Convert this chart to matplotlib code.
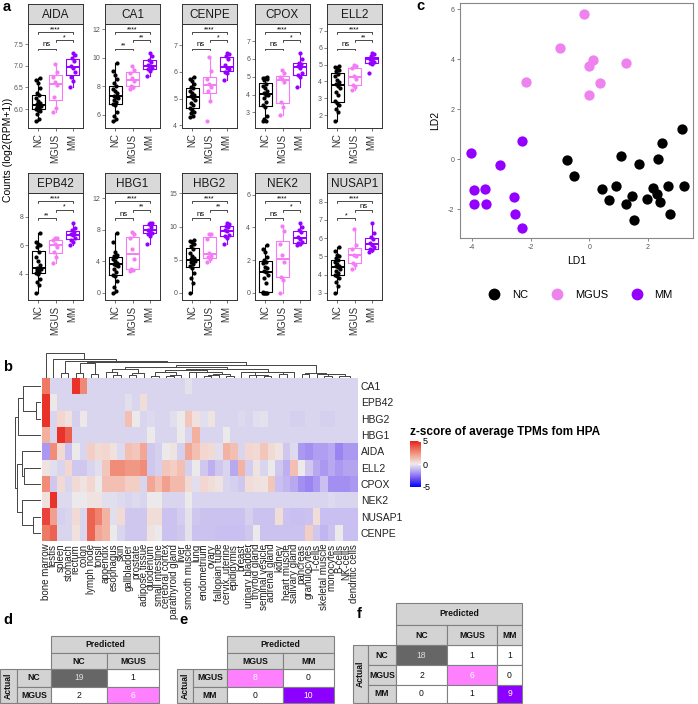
import numpy as np
import matplotlib
matplotlib.use('Agg')
import matplotlib.pyplot as plt
from matplotlib.colors import LinearSegmentedColormap
from matplotlib.patches import Rectangle
from matplotlib.lines import Line2D
from matplotlib.ticker import MultipleLocator

# ---------------- data ----------------
groups = ['NC', 'MGUS', 'MM']
group_colors = ['black', '#F47CF4', '#9400FF']

genes_a = ['AIDA', 'CA1', 'CENPE', 'CPOX', 'ELL2', 'EPB42', 'HBG1', 'HBG2', 'NEK2', 'NUSAP1']

nc_counts = {
    'AIDA': [5.72, 5.78, 5.88, 5.95, 5.97, 6.0, 6.02, 6.05, 6.08, 6.09, 6.11, 6.13, 6.18, 6.25, 6.32, 6.38, 6.48, 6.6, 6.68, 6.72],
    'CA1': [5.55, 5.7, 5.9, 6.2, 6.65, 6.75, 6.9, 7.05, 7.2, 7.25, 7.35, 7.5, 7.65, 7.8, 8.0, 8.2, 8.5, 8.8, 9.1, 9.6],
    'CENPE': [4.3, 4.35, 4.45, 4.5, 4.58, 4.65, 4.75, 4.85, 4.95, 5.02, 5.08, 5.15, 5.2, 5.3, 5.38, 5.45, 5.55, 5.65, 5.72, 5.8],
    'CPOX': [2.5, 2.52, 2.6, 2.8, 3.3, 3.4, 3.6, 3.8, 3.95, 4.0, 4.1, 4.2, 4.35, 4.5, 4.6, 4.8, 4.88, 4.92, 4.95, 4.97],
    'ELL2': [1.65, 2.2, 2.35, 2.6, 2.7, 2.85, 3.2, 3.4, 3.6, 3.75, 3.85, 3.95, 4.1, 4.3, 4.45, 4.6, 4.7, 4.8, 4.85, 4.9],
    'EPB42': [2.65, 3.2, 3.4, 3.6, 3.95, 4.05, 4.15, 4.25, 4.35, 4.38, 4.42, 4.6, 4.9, 5.2, 5.5, 5.9, 6.0, 6.1, 6.2, 6.9],
    'HBG1': [0.0, 0.3, 0.8, 1.5, 2.1, 2.3, 2.6, 3.0, 3.4, 3.55, 3.65, 3.8, 4.1, 4.3, 4.5, 4.7, 4.8, 5.2, 6.5, 7.6],
    'HBG2': [0.0, 1.5, 2.3, 3.0, 3.8, 4.0, 4.3, 4.6, 4.8, 4.95, 5.05, 5.3, 5.6, 6.0, 6.6, 7.0, 7.3, 7.6, 7.8, 8.0],
    'NEK2': [0.0, 0.0, 0.0, 0.0, 0.0, 0.05, 0.6, 0.9, 1.1, 1.25, 1.35, 1.5, 1.6, 1.8, 1.9, 2.0, 2.2, 2.5, 2.7, 2.9],
    'NUSAP1': [3.0, 3.4, 3.6, 3.8, 3.95, 4.0, 4.1, 4.2, 4.3, 4.4, 4.45, 4.5, 4.6, 4.7, 4.8, 4.9, 5.0, 5.1, 5.3, 5.5],
}
mgus_counts = {
    'AIDA': [5.93, 6.02, 6.28, 6.55, 6.62, 6.75, 6.85, 7.03],
    'CA1': [7.8, 7.95, 8.05, 8.35, 8.55, 8.95, 9.15, 9.45],
    'CENPE': [4.15, 4.9, 5.3, 5.45, 5.55, 5.75, 6.05, 6.55],
    'CPOX': [2.87, 3.3, 3.6, 4.7, 4.9, 5.0, 5.2, 5.37],
    'ELL2': [3.5, 3.7, 3.8, 4.15, 4.35, 4.8, 4.9, 5.0],
    'EPB42': [4.75, 5.2, 5.5, 5.9, 6.1, 6.35, 6.5, 6.5],
    'HBG1': [2.8, 2.9, 3.0, 4.3, 5.6, 7.0, 7.5, 7.7],
    'HBG2': [4.7, 5.1, 5.35, 5.6, 6.0, 8.2, 8.9, 8.9],
    'NEK2': [0.0, 0.8, 1.0, 1.9, 2.3, 3.0, 3.8, 4.1],
    'NUSAP1': [4.3, 4.55, 4.65, 5.0, 5.1, 5.4, 5.6, 6.5],
}
mm_counts = {
    'AIDA': [6.52, 6.65, 6.75, 6.85, 6.95, 7.0, 7.1, 7.18, 7.25, 7.3],
    'CA1': [8.75, 9.1, 9.2, 9.3, 9.4, 9.5, 9.7, 9.85, 10.1, 10.35],
    'CENPE': [5.7, 5.95, 6.0, 6.1, 6.15, 6.25, 6.5, 6.6, 6.68, 6.72],
    'CPOX': [4.42, 5.0, 5.1, 5.2, 5.5, 5.62, 5.7, 5.8, 6.0, 6.35],
    'ELL2': [4.52, 5.05, 5.1, 5.15, 5.25, 5.35, 5.4, 5.5, 5.6, 5.7],
    'EPB42': [6.0, 6.2, 6.4, 6.5, 6.7, 6.8, 6.95, 7.05, 7.2, 7.6],
    'HBG1': [6.2, 7.2, 7.5, 7.6, 7.8, 8.0, 8.4, 8.7, 8.8, 8.9],
    'HBG2': [7.3, 8.3, 8.6, 8.8, 9.3, 9.5, 9.9, 10.1, 10.4, 10.6],
    'NEK2': [2.9, 3.0, 3.05, 3.1, 3.3, 3.4, 3.7, 3.85, 4.0, 4.3],
    'NUSAP1': [5.23, 5.35, 5.4, 5.5, 5.65, 5.75, 5.95, 6.05, 6.3, 6.85],
}
# significance: NC-MGUS, MGUS-MM, NC-MM
sig_labels = {
    'AIDA': ['ns', '*', '****'], 'CA1': ['**', '**', '****'], 'CENPE': ['ns', '*', '****'],
    'CPOX': ['ns', '*', '****'], 'ELL2': ['ns', '**', '****'], 'EPB42': ['**', '*', '****'],
    'HBG1': ['ns', '**', '****'], 'HBG2': ['ns', '**', '****'], 'NEK2': ['ns', '*', '****'],
    'NUSAP1': ['*', 'ns', '****'],
}
ytick_step = {'AIDA': 0.5, 'CA1': 2, 'CENPE': 1, 'CPOX': 1, 'ELL2': 1,
              'EPB42': 2, 'HBG1': 4, 'HBG2': 5, 'NEK2': 2, 'NUSAP1': 1}

# LDA scores
ld1_nc = [-0.76, -0.52, 1.10, 1.71, 3.15, 2.47, 2.36, 0.42, 0.90, 0.68, 1.24, 1.47, 1.54, 1.97, 2.19, 2.31, 2.42, 2.67, 2.74, 3.24]
ld2_nc = [-0.03, -0.68, 0.12, -0.20, 1.20, 0.64, -0.01, -1.21, -1.07, -1.65, -1.81, -1.47, -2.43, -1.59, -1.16, -1.39, -1.73, -1.07, -2.19, -1.07]
ld1_mgus = [-0.17, -1.00, 0.13, -0.02, 1.27, -2.17, 0.35, -0.01]
ld2_mgus = [5.81, 4.44, 3.95, 3.72, 3.85, 3.09, 3.04, 2.56]
ld1_mm = [-2.31, -4.03, -3.06, -3.94, -3.56, -3.92, -3.52, -2.57, -2.54, -2.29]
ld2_mm = [0.72, 0.25, -0.24, -1.24, -1.20, -1.79, -1.79, -1.52, -2.21, -2.76]

# HPA heatmap
heat_genes = ['CA1', 'EPB42', 'HBG2', 'HBG1', 'AIDA', 'ELL2', 'CPOX', 'NEK2', 'NUSAP1', 'CENPE']
tissues = ['bone marrow', 'testis', 'spleen', 'stomach', 'rectum', 'colon', 'lymph node', 'tonsil',
           'appendix', 'esophagus', 'skin', 'gallbladder', 'prostate', 'adipose tissue', 'duodenum',
           'small intestine', 'cerebral cortex', 'parathyroid gland', 'liver', 'smooth muscle', 'lung',
           'endometrium', 'ovary', 'fallopian tube', 'cervix, uterine', 'epididymis', 'breast',
           'urinary bladder', 'thyroid gland', 'seminal vesicle', 'adrenal gland', 'kidney',
           'heart muscle', 'salivary gland', 'pancreas', 'granulocytes', 'T-cells', 'skeletal muscle',
           'monocytes', 'B-cells', 'NK-cells', 'dendritic cells']
z_ca1 = [3.0, -0.5, -0.5, -0.5, 4.6, 2.6, -0.5, -0.5, -0.5, -0.5, -0.5, -0.5, -0.5, -0.5, -0.5, -0.5, -0.5, -0.5, -0.5, -0.2, -0.5,
         -0.5, -0.5, -0.5, -0.5, -0.5, -0.5, -0.5, -0.5, -0.5, -0.5, -0.5, -0.5, -0.5, -0.5, -0.5, -0.5, -0.5, -0.5, -0.5, -0.5, -0.5]
z_epb42 = [4.6, 0.1, -0.5, -0.5, -0.5, -0.5, -0.5, -0.5, -0.5, -0.5, -0.5, -0.3, -0.5, 0.4, -0.5, -0.5, -0.5, -0.5, -0.5, -0.5, -0.5,
           -0.5, -0.5, -0.5, -0.5, -0.5, -0.5, -0.5, -0.5, -0.5, -0.5, -0.5, -0.5, -0.5, -0.5, -0.5, -0.5, -0.5, -0.5, -0.5, -0.5, -0.5]
z_hbg2 = [4.6, -0.5, 0.6, 0.3, -0.6, 0.1, -0.5, -0.5, -0.5, -0.5, -0.5, 1.2, 0.0, -0.5, -0.4, -0.5, -0.5, -0.3, 0.0, 1.0, 0.3,
          -0.3, 0.2, -0.5, -0.5, -0.5, -0.4, -0.5, -0.3, -0.2, -0.5, -0.5, -0.5, -0.6, -0.6, -0.5, -0.5, -0.6, -0.6, -0.5, -0.5, -0.5]
z_hbg1 = [1.6, -0.5, 4.6, 3.6, -0.5, -0.5, -0.5, -0.5, -0.5, -0.5, -0.5, -0.5, -0.5, -0.5, 0.0, -0.5, -0.5, -0.5, 0.0, -0.5, 1.6,
          -0.5, -0.5, -0.5, 0.0, -0.5, -0.5, -0.5, -0.5, -0.5, -0.5, -0.5, -0.5, -0.5, -0.5, -0.5, -0.5, -0.5, -0.5, -0.5, -0.5, -0.5]
z_aida = [-1.8, 2.5, 0.5, -1.0, 0.0, -0.5, 0.8, 0.5, 0.6, 0.3, -0.4, 1.2, 1.0, 1.8, -0.8, -0.6, 0.0, 0.2, -0.6, 1.8, 1.2,
          0.6, 0.5, -0.3, 1.5, 1.2, -0.5, 0.6, 0.5, 1.0, 0.5, 0.2, -0.8, -0.4, -1.8, -2.0, -1.7, -1.7, -1.5, -2.2, -1.8, -1.8]
z_ell2 = [0.2, -0.3, -0.5, 0.6, -0.8, -0.8, -0.5, -0.3, 1.0, 2.5, 2.5, 2.2, 2.2, 2.5, -0.8, -0.6, 1.0, 0.8, 1.2, -0.6, 0.0,
          -0.8, -1.3, -0.8, -0.5, -1.5, 1.5, -0.7, 0.2, -0.5, 0.0, -0.8, -1.3, 1.2, 0.0, -0.8, -1.5, -1.8, -1.5, -1.8, -1.6, -1.6]
z_cpox = [2.5, -0.8, 0.5, -0.5, 0.5, 0.2, 0.6, 0.0, 1.2, 1.2, 1.2, 0.8, 0.8, -0.5, 1.8, 1.2, 2.0, 1.3, 1.3, 0.5, -0.3,
          0.6, 0.4, 0.2, -0.5, -0.6, -0.8, 0.4, 0.3, 0.2, 1.0, -1.0, -1.2, -1.5, -2.0, -2.2, -1.8, -1.0, -2.0, -2.0, -2.0, -1.8]
z_nek2 = [0.3, 4.6, -0.4, -0.4, 0.0, 0.0, 0.2, 0.2, -0.3, -0.3, -0.4, -0.5, -0.4, -0.5, 0.0, 0.0, -0.5, -0.5, -0.5, 0.0, -0.5,
          -0.5, -0.5, -0.5, -0.5, -0.5, -0.5, -0.5, -0.5, -0.5, -0.5, -0.5, -0.5, -0.5, -0.5, -0.5, -0.5, -0.5, -0.4, -0.5, -0.5, -0.5]
z_nusap1 = [4.2, 2.0, -0.6, -0.5, 0.5, -0.5, 3.5, 2.8, 1.5, -0.3, 0.5, -0.8, -0.8, -0.8, 0.4, 0.4, -0.9, -0.9, -0.7, -0.2, -0.8,
            -0.9, -0.9, -0.9, -0.9, -0.9, -0.9, -0.6, -0.9, -0.9, -0.9, 0.4, -0.9, -1.0, -1.0, -0.9, 0.4, -1.0, -1.0, -1.0, -1.0, -1.0]
z_cenpe = [3.0, 3.5, -0.5, -0.5, 0.3, -0.5, 3.5, 1.8, 1.5, 0.0, -0.5, -0.8, -0.8, -0.8, 0.2, 0.0, -0.9, -0.9, -0.8, -0.2, -0.9,
           -0.9, -0.9, -1.0, -1.0, -1.0, -1.0, -0.8, 0.0, -0.9, -0.9, -0.9, -0.9, -0.9, -0.9, 0.8, -0.8, -1.2, -0.9, 0.0, -1.0, -1.0]

# gene dendrogram (left id, right id, height), scipy-like ids
row_links = [(1, 2, 0.2), (0, 10, 0.7), (11, 3, 0.9), (5, 6, 0.66), (4, 13, 0.72),
             (8, 9, 0.3), (7, 15, 0.73), (14, 16, 0.92), (12, 17, 1.0)]

# confusion matrices
d_labels = ['NC', 'MGUS']
d_counts = [[19, 1], [2, 6]]
e_labels = ['MGUS', 'MM']
e_counts = [[8, 0], [0, 10]]
f_labels = ['NC', 'MGUS', 'MM']
f_counts = [[18, 1, 1], [2, 6, 0], [0, 1, 9]]

# ---------------- figure ----------------
plt.rcParams['font.family'] = ['Liberation Sans', 'DejaVu Sans']
plt.rcParams['axes.unicode_minus'] = False
W, H = 698, 704
fig = plt.figure(figsize=(W / 100, H / 100), dpi=100)


def axes_px(x0, y0, x1, y1, **kw):
    return fig.add_axes([x0 / W, 1 - y1 / H, (x1 - x0) / W, (y1 - y0) / H], **kw)


# ---- panel a: boxplots
col_x = [28, 105, 182, 255, 327]
for k, g in enumerate(genes_a):
    r, c = divmod(k, 5)
    x0 = col_x[c]
    sy0, sy1, py1 = (4, 24, 128) if r == 0 else (173, 193, 300)
    ax = axes_px(x0, sy1, x0 + 55, py1)
    data = [nc_counts[g], mgus_counts[g], mm_counts[g]]
    bp = ax.boxplot(data, positions=[1, 2, 3], widths=0.75, showfliers=False, showcaps=False,
                    boxprops=dict(lw=0.8), whiskerprops=dict(lw=0.8), medianprops=dict(lw=1.4))
    for i, col in enumerate(group_colors):
        bp['boxes'][i].set_color(col)
        bp['medians'][i].set_color(col)
        bp['whiskers'][2 * i].set_color(col)
        bp['whiskers'][2 * i + 1].set_color(col)
        n = len(data[i])
        offs = (((np.arange(n) * 0.61803) % 1) - 0.5) * 0.3
        ax.plot(i + 1 + offs, data[i], 'o', ms=2, color=col, zorder=3)
    allv = np.concatenate(data)
    lo, hi = allv.min(), allv.max()
    span = hi - lo
    for j, (a, b) in enumerate([(1, 2), (2, 3), (1, 3)]):
        y = hi + span * [0.06, 0.18, 0.30][j]
        tip = span * 0.025
        ax.plot([a, a, b, b], [y - tip, y, y, y - tip], color='black', lw=0.5)
        lab = sig_labels[g][j]
        ax.text((a + b) / 2, y + (0.005 * span if lab == 'ns' else -0.01 * span), lab, ha='center',
                va='bottom', fontsize=5.5 if lab == 'ns' else 5)
    ax.set_ylim(lo - 0.1 * span, hi + 0.42 * span)
    ax.set_xlim(0.4, 3.6)
    ax.yaxis.set_major_locator(MultipleLocator(ytick_step[g]))
    ax.set_xticks([1, 2, 3])
    ax.set_xticklabels(groups, rotation=90, fontsize=7, color='#333333')
    ax.tick_params(axis='y', labelsize=5, colors='#555555', length=2, width=0.5, pad=1.5)
    ax.tick_params(axis='x', length=2, width=0.5, pad=2, colors='#333333')
    for sp in ax.spines.values():
        sp.set_color('#333333')
        sp.set_linewidth(0.7)
    st = axes_px(x0, sy0, x0 + 55, sy1, facecolor='#D9D9D9')
    st.set_xticks([])
    st.set_yticks([])
    for sp in st.spines.values():
        sp.set_color('#333333')
        sp.set_linewidth(0.7)
    st.text(0.5, 0.45, g, ha='center', va='center', fontsize=8.5, color='#1A1A1A', transform=st.transAxes)

fig.text(8 / W, 1 - 150 / H, 'Counts (log2(RPM+1))', rotation=90, ha='center', va='center', fontsize=7.5)

# ---- panel c: LDA scatter
axc = axes_px(460, 3, 693, 238)
axc.scatter(ld1_nc, ld2_nc, s=55, color=group_colors[0], lw=0)
axc.scatter(ld1_mgus, ld2_mgus, s=55, color='#EE82EE', lw=0)
axc.scatter(ld1_mm, ld2_mm, s=55, color=group_colors[2], lw=0)
axc.set_xlim(-4.41, 3.54)
axc.set_ylim(-3.16, 6.24)
axc.set_xticks([-4, -2, 0, 2])
axc.set_yticks([-2, 0, 2, 4, 6])
axc.tick_params(labelsize=5, colors='#555555', length=2, width=0.5, pad=2)
for sp in axc.spines.values():
    sp.set_color('#888888')
    sp.set_linewidth(0.8)
axc.set_xlabel('LD1', fontsize=7.5, labelpad=4)
axc.set_ylabel('LD2', fontsize=7.5, labelpad=6)
handles = [Line2D([], [], marker='o', ls='', ms=8.5, color=c, mec='none')
           for c in [group_colors[0], '#EE82EE', group_colors[2]]]
fig.legend(handles, groups, loc='center', bbox_to_anchor=(578 / W, 1 - 295 / H), ncol=3,
           frameon=False, fontsize=8, handletextpad=0.6, columnspacing=1.6)

# ---- panel b: heatmap
hpa_z = np.array([z_ca1, z_epb42, z_hbg2, z_hbg1, z_aida, z_ell2, z_cpox, z_nek2, z_nusap1, z_cenpe])
cmap = LinearSegmentedColormap.from_list('hpa', [
    (0.0, '#0000FF'), (0.2, '#7A5CF5'), (0.35, '#B8A8F0'), (0.45, '#DAD5EF'), (0.5, '#ECEAEC'),
    (0.55, '#F2DAD4'), (0.65, '#F3B3A3'), (0.8, '#EE7A65'), (1.0, '#E8201C')])
axh = axes_px(42, 378, 358, 541)
mesh = axh.pcolormesh(np.arange(43), np.arange(11), hpa_z, cmap=cmap, vmin=-5, vmax=5)
axh.set_xlim(0, 42)
axh.set_ylim(10, 0)
axh.set_xticks(np.arange(42) + 0.5)
axh.set_xticklabels(tissues, rotation=90, fontsize=7, color='#222222')
axh.set_yticks(np.arange(10) + 0.5)
axh.set_yticklabels(heat_genes, fontsize=7.5, color='#222222')
axh.yaxis.tick_right()
axh.tick_params(length=0, pad=2)
for sp in axh.spines.values():
    sp.set_visible(False)


def chain_linkage(X):
    # complete linkage restricted to neighbouring clusters (keeps the given order)
    n = len(X)
    members = [[i] for i in range(n)]
    ids = list(range(n))
    links = []
    while len(members) > 1:
        d = [max(np.linalg.norm(X[a] - X[b]) for a in members[j] for b in members[j + 1])
             for j in range(len(members) - 1)]
        j = int(np.argmin(d))
        links.append((ids[j], ids[j + 1], d[j]))
        members[j:j + 2] = [members[j] + members[j + 1]]
        ids[j:j + 2] = [n + len(links) - 1]
    return links


def draw_dendro(ax, links, n, vertical):
    pos = {i: i + 0.5 for i in range(n)}
    hgt = {i: 0.0 for i in range(n)}
    for k, (a, b, h) in enumerate(links):
        xs = [pos[a], pos[a], pos[b], pos[b]]
        ys = [hgt[a], h, h, hgt[b]]
        if vertical:
            ax.plot(xs, ys, color='#444444', lw=0.7)
        else:
            ax.plot(ys, xs, color='#444444', lw=0.7)
        pos[n + k] = (pos[a] + pos[b]) / 2
        hgt[n + k] = h
    ax.axis('off')


col_links = chain_linkage(hpa_z.T)
axt = axes_px(42, 353, 358, 378)
draw_dendro(axt, col_links, 42, True)
axt.set_xlim(0, 42)
axt.set_ylim(0, max(l[2] for l in col_links))

axl = axes_px(15, 378, 41, 541)
draw_dendro(axl, row_links, 10, False)
axl.set_xlim(1.0, 0)
axl.set_ylim(10, 0)

cax = axes_px(410, 441, 421, 487)
cb = fig.colorbar(mesh, cax=cax, ticks=[-5, 0, 5])
cb.outline.set_visible(False)
cb.ax.tick_params(labelsize=6.5, length=2.5, color='white', direction='in', pad=1.5)
fig.text(410 / W, 1 - 432 / H, 'z-score of average TPMs fom HPA', fontsize=8.5, fontweight='bold',
         va='center', ha='left')

# ---- panels d, e, f: confusion tables
ov = axes_px(0, 0, W, H)
ov.set_xlim(0, W)
ov.set_ylim(H, 0)
ov.axis('off')
narrow = ['Liberation Sans Narrow', 'Liberation Sans', 'DejaVu Sans']
diag_colors = {'NC': '#666666', 'MGUS': '#FF80FF', 'MM': '#8C00FF'}
head_fc = '#D3D3D3'
edge = '#808080'


def cell(x, y, w, h, fc, txt, tcol='#111111', bold=False, rot=0, size=6.2):
    ov.add_patch(Rectangle((x, y), w, h, facecolor=fc, edgecolor=edge, lw=0.8))
    ov.text(x + w / 2, y + h / 2, txt, ha='center', va='center', color=tcol, rotation=rot,
            fontsize=size, fontweight='bold' if bold else 'normal', family=narrow)


def conf_table(x0, y0, widths, heights, labels, counts):
    xs = np.concatenate([[x0], x0 + np.cumsum(widths)])
    ys = np.concatenate([[y0], y0 + np.cumsum(heights)])
    n = len(labels)
    cell(xs[2], ys[0], xs[-1] - xs[2], heights[0], head_fc, 'Predicted', bold=True)
    cell(xs[0], ys[2], widths[0], ys[-1] - ys[2], head_fc, 'Actual', bold=True, rot=90)
    for i, lab in enumerate(labels):
        cell(xs[2 + i], ys[1], widths[2 + i], heights[1], head_fc, lab, bold=True)
        cell(xs[1], ys[2 + i], widths[1], heights[2 + i], head_fc, lab, bold=True)
        for j in range(n):
            v = counts[i][j]
            if i == j:
                fc = diag_colors[lab]
                tc = '#DDDDDD' if lab == 'NC' else 'white'
            else:
                fc, tc = 'white', '#111111'
            cell(xs[2 + j], ys[2 + i], widths[2 + j], heights[2 + i], fc, str(v), tcol=tc)


conf_table(0, 636, [17, 34, 56, 52], [17, 16, 18, 16], d_labels, d_counts)
conf_table(177, 636, [16, 34, 56, 51], [17, 16, 18, 16], e_labels, e_counts)
conf_table(353, 603, [15, 28, 51, 50, 25], [22, 20, 20, 20, 18], f_labels, f_counts)

# panel letters
for lt, (x, y) in zip('abcdef', [(3, 7), (3, 367), (416, 6), (3, 620), (179, 620), (357, 614)]):
    fig.text(x / W, 1 - y / H, lt, fontsize=10.5, fontweight='bold', ha='left', va='center')

fig.savefig('out.png', dpi=100)
